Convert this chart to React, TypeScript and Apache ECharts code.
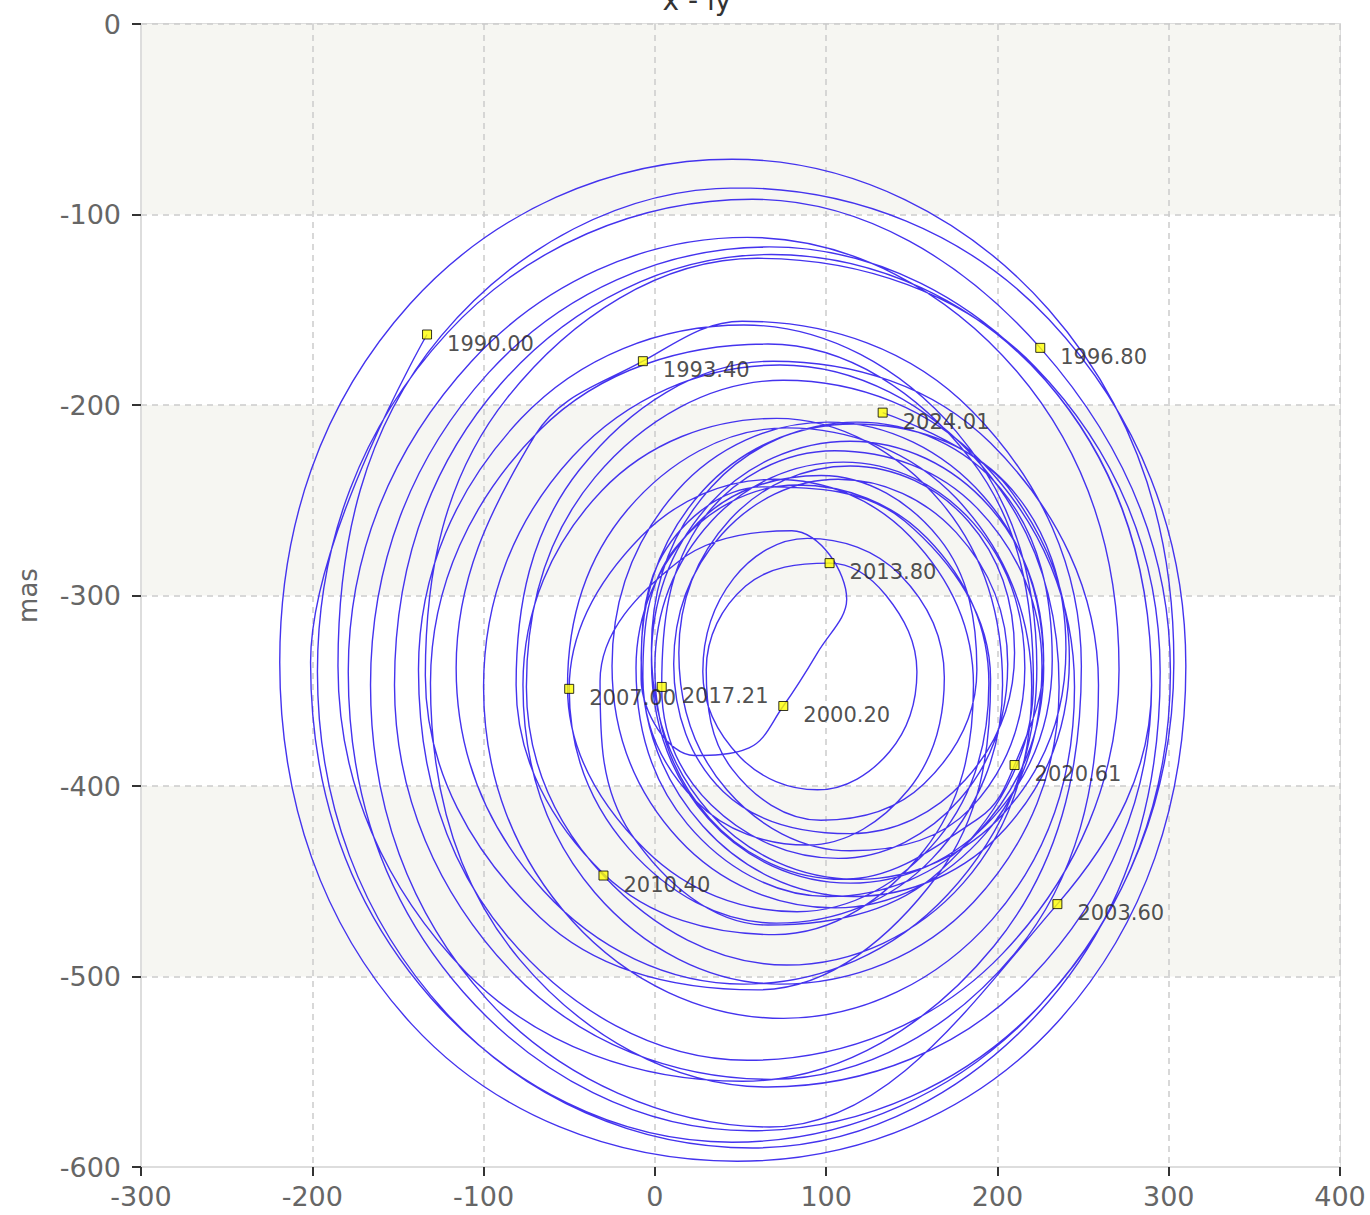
import React, { useEffect, useRef } from "react";
import * as echarts from "echarts";

// Epoch markers (mas): x and plotted y (= -y_pole)
const epochLabels = ["1990.00", "1993.40", "1996.80", "2000.20", "2003.60", "2007.00", "2010.40", "2013.80", "2017.21", "2020.61", "2024.01"];
const epochX = [-133, -7, 225, 75, 235, -50, -30, 102, 4, 210, 133];
const epochY = [-163, -177, -170, -358, -462, -349, -447, -283, -348, -389, -204];

// Pole track, one list per interval between epochs
const track1990: number[][] = [
  [-201, -335], [-131, -511], [45, -587], [225, -515], [303, -335], [230, -150], [45, -71], [-143, -147],
  [-219, -335], [-142, -525], [48, -597], [235, -524], [310, -337], [230, -155], [48, -86], [-125, -164],
  [-185, -337], [-110, -498], [51, -555], [198, -484], [249, -337], [185, -203], [51, -156],
];
const track1993: number[][] = [
  [-70, -216], [-116, -338], [-65, -455], [52, -504], [171, -457], [223, -338], [176, -214], [52, -158],
  [-78, -207], [-138, -339], [-86, -479], [54, -544], [203, -488], [271, -339], [211, -182], [54, -112],
  [-107, -177], [-179, -340], [-112, -508], [56, -581], [228, -512], [301, -340],
];
const track1996: number[][] = [
  [57, -92], [-121, -162], [-197, -340], [-122, -519], [57, -590], [230, -513], [295, -340], [222, -180],
  [60, -123], [-86, -196], [-134, -342], [-67, -469], [60, -507], [165, -447], [196, -344], [146, -261],
  [63, -243], [2, -283], [-8, -344], [23, -384], [55, -380],
];
const track2000: number[][] = [
  [95, -330], [112, -302], [80, -266], [14, -282], [-32, -345], [-14, -425], [66, -473], [166, -445],
  [221, -346], [184, -228], [66, -168], [-67, -213], [-131, -346], [-79, -491], [66, -558], [220, -500],
  [290, -347], [228, -187], [67, -117], [-97, -183], [-166, -347], [-98, -512], [67, -579],
];
const track2003: number[][] = [
  [290, -347], [228, -187], [68, -121], [-90, -189], [-152, -347], [-83, -498], [68, -554], [210, -488],
  [259, -347], [196, -220], [69, -177], [-44, -234], [-81, -347], [-30, -446], [70, -478], [157, -434],
  [186, -347], [149, -269], [70, -239], [-8, -269],
];
const track2007: number[][] = [
  [-15, -433], [71, -472], [162, -438], [203, -347], [167, -251], [71, -207], [-31, -245], [-77, -347],
  [-35, -456], [73, -504], [186, -461], [236, -348], [190, -231], [73, -179], [-48, -227], [-100, -348],
  [-48, -471], [75, -522], [197, -470], [245, -348], [192, -231], [75, -187], [-35, -238], [-75, -348],
];
const track2010: number[][] = [
  [77, -494], [180, -451], [220, -348], [176, -249], [77, -212], [-16, -255], [-51, -348], [-5, -434],
  [83, -466], [165, -428], [195, -346], [159, -270], [83, -242], [12, -275], [-7, -343], [24, -408],
  [89, -431], [148, -402], [169, -343], [143, -289], [89, -270], [46, -291], [28, -340], [50, -385],
  [95, -402], [137, -382], [153, -340], [135, -300],
];
const track2013: number[][] = [
  [53, -295], [30, -339], [45, -391], [97, -418], [157, -399], [188, -339], [166, -270], [97, -237],
  [25, -262], [-11, -338], [19, -420], [101, -458], [188, -425], [227, -338], [192, -248], [101, -209],
  [13, -245], [-25, -337], [14, -428], [105, -464], [193, -425], [226, -337], [188, -254], [105, -224],
  [28, -260],
];
const track2017: number[][] = [
  [33, -410], [107, -438], [178, -407], [206, -336], [176, -267], [107, -239], [39, -268], [11, -336],
  [40, -403], [114, -425], [181, -397], [210, -330], [183, -261], [114, -232], [44, -260], [14, -330],
  [42, -402], [114, -434], [184, -412], [216, -338], [186, -262], [110, -230], [33, -261], [0, -338],
  [32, -417], [110, -449], [189, -417],
];
const track2020: number[][] = [
  [227, -334], [195, -253], [114, -219], [32, -252], [-2, -334], [31, -417], [114, -451], [197, -417],
  [232, -334], [202, -244], [118, -209], [33, -243], [-2, -328], [32, -414], [118, -449], [204, -414],
  [240, -328], [205, -241], [116, -210], [28, -245], [-8, -333], [28, -421], [116, -458], [205, -422],
  [242, -333], [206, -243],
];
const tracks = [track1990, track1993, track1996, track2000, track2003, track2007, track2010, track2013, track2017, track2020];

const titleText = "x - iy";
const yAxisName = "mas";

export default function App() {
  const ref = useRef<HTMLDivElement>(null);

  useEffect(() => {
    document.body.style.margin = "0";
    if (!ref.current) return;
    const chart = echarts.init(ref.current, undefined, { renderer: "svg" });

    const lineData: number[][] = [];
    epochLabels.forEach((_, i) => {
      lineData.push([epochX[i], epochY[i]]);
      if (tracks[i]) tracks[i].forEach((p) => lineData.push(p));
    });

    const epochData = epochLabels.map((l, i) => ({ name: l, value: [epochX[i], epochY[i]] }));

    const font = "DejaVu Sans";
    chart.setOption({
      animation: false,
      backgroundColor: "#ffffff",
      textStyle: { fontFamily: font },
      grid: {
        left: 141,
        right: 30,
        top: 24,
        bottom: 48,
        show: true,
        borderColor: "#dddddd",
        borderWidth: 2,
        backgroundColor: "transparent",
      },
      graphic: [
        {
          type: "text",
          x: 697,
          y: 14,
          z: 100,
          style: {
            text: titleText,
            fontSize: 28,
            fontFamily: font,
            fill: "#333333",
            align: "center",
            verticalAlign: "bottom",
          },
        },
      ],
      xAxis: {
        type: "value",
        min: -300,
        max: 400,
        interval: 100,
        axisLine: { show: true, onZero: false, lineStyle: { color: "#dddddd", width: 2 } },
        axisTick: { show: true, length: 9, lineStyle: { color: "#333333", width: 2 } },
        axisLabel: { color: "#666666", fontSize: 27, margin: 16, fontFamily: font },
        splitLine: { show: true, lineStyle: { color: "#cccccc", type: [6, 5], width: 1.5 } },
      },
      yAxis: {
        type: "value",
        min: -600,
        max: 0,
        interval: 100,
        name: yAxisName,
        nameLocation: "middle",
        nameGap: 100,
        nameTextStyle: { color: "#666666", fontSize: 26, fontFamily: font },
        axisLine: { show: true, onZero: false, lineStyle: { color: "#dddddd", width: 2 } },
        axisTick: { show: true, length: 9, lineStyle: { color: "#333333", width: 2 } },
        axisLabel: { color: "#666666", fontSize: 27, margin: 20, fontFamily: font },
        splitLine: { show: true, lineStyle: { color: "#cccccc", type: [6, 5], width: 1.5 } },
        splitArea: { show: true, areaStyle: { color: ["#ffffff", "#f6f6f2"] } },
      },
      series: [
        {
          type: "line",
          data: lineData,
          symbol: "none",
          showSymbol: false,
          smooth: 0.38,
          lineStyle: { color: "#4433ee", width: 1.4 },
          z: 2,
        },
        {
          type: "scatter",
          data: epochData,
          symbol: "rect",
          symbolSize: 9,
          itemStyle: { color: "#ffff00", borderColor: "#000000", borderWidth: 1 },
          label: {
            show: true,
            position: "right",
            distance: 15,
            offset: [0, 9],
            formatter: (p: any) => p.name,
            fontSize: 21,
            color: "#222222",
            fontFamily: font,
          },
          z: 3,
        },
      ],
    });

    return () => chart.dispose();
  }, []);

  return <div ref={ref} style={{ width: 1370, height: 1215 }} />;
}
